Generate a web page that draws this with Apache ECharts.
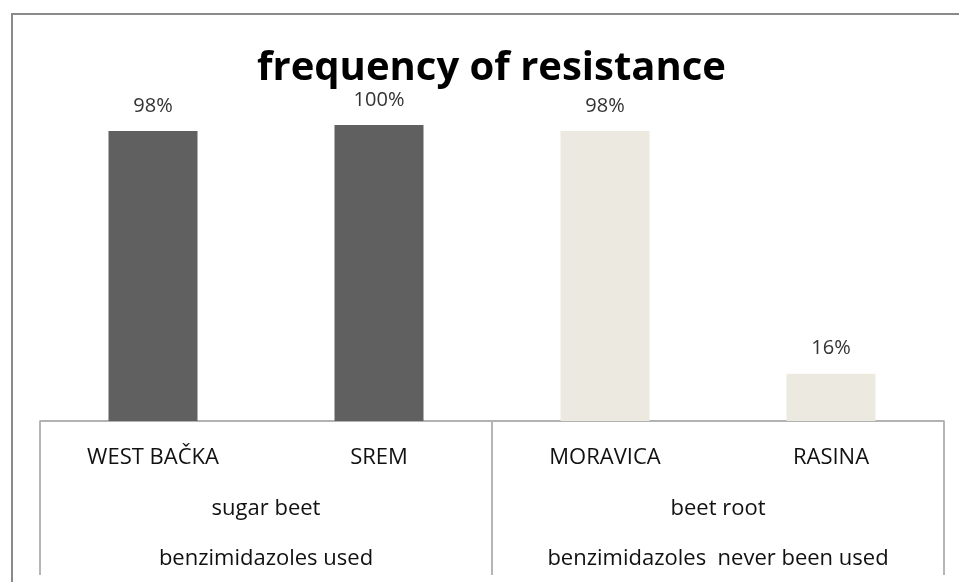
<!DOCTYPE html>
<html>
<head>
<meta charset="utf-8">
<script src="https://cdn.jsdelivr.net/npm/echarts@6/dist/echarts.min.js"></script>
<style>html,body{margin:0;padding:0;background:#fff}#c{width:959px;height:582px}</style>
</head>
<body>
<div id="c"></div>
<script>
var categories = ['WEST BAČKA', 'SREM', 'MORAVICA', 'RASINA'];
var values = [98, 100, 98, 16];
var cropGroups = ['sugar beet', 'beet root'];
var useGroups = ['benzimidazoles used', 'benzimidazoles  never been used'];
var barColors = ['#606060', '#606060', '#ECEAE0', '#ECEAE0'];

var FONT = "'Open Sans', sans-serif";
var chart = echarts.init(document.getElementById('c'));
chart.setOption({
  animation: false,
  title: {
    text: 'frequency of resistance',
    left: 252, top: 44,
    textStyle: { fontFamily: FONT, fontWeight: 'bold', fontSize: 40, color: '#000' }
  },
  graphic: [{
    type: 'rect', shape: { x: 12, y: 14, width: 1200, height: 1200 },
    style: { fill: 'none', stroke: '#8a8a8a', lineWidth: 2 }, z: -1
  }],
  grid: { left: 40, right: 15, top: 125, bottom: 161 },
  xAxis: [{
    type: 'category', data: categories, position: 'bottom',
    axisLine: { show: true, lineStyle: { color: '#999', width: 1.5 } },
    axisTick: { show: false },
    axisLabel: { margin: 26, fontFamily: FONT, fontSize: 22, color: '#111' }
  }, {
    type: 'category', data: cropGroups, position: 'bottom',
    axisLine: { show: false },
    axisTick: { show: true, length: 154, lineStyle: { color: '#b5b5b5', width: 2 } },
    axisLabel: { margin: 77, fontFamily: FONT, fontSize: 22, color: '#111' }
  }, {
    type: 'category', data: useGroups, position: 'bottom',
    axisLine: { show: false }, axisTick: { show: false },
    axisLabel: { margin: 127, fontFamily: FONT, fontSize: 22, color: '#111' }
  }],
  yAxis: { type: 'value', min: 0, max: 100, show: false },
  series: [{
    type: 'bar', xAxisIndex: 0, barWidth: 89,
    data: values.map(function (v, i) { return { value: v, itemStyle: { color: barColors[i] } }; }),
    label: {
      show: true, position: 'top', distance: 15, formatter: '{c}%',
      fontFamily: FONT, fontSize: 20, color: '#333'
    }
  }]
});
</script>
</body>
</html>
